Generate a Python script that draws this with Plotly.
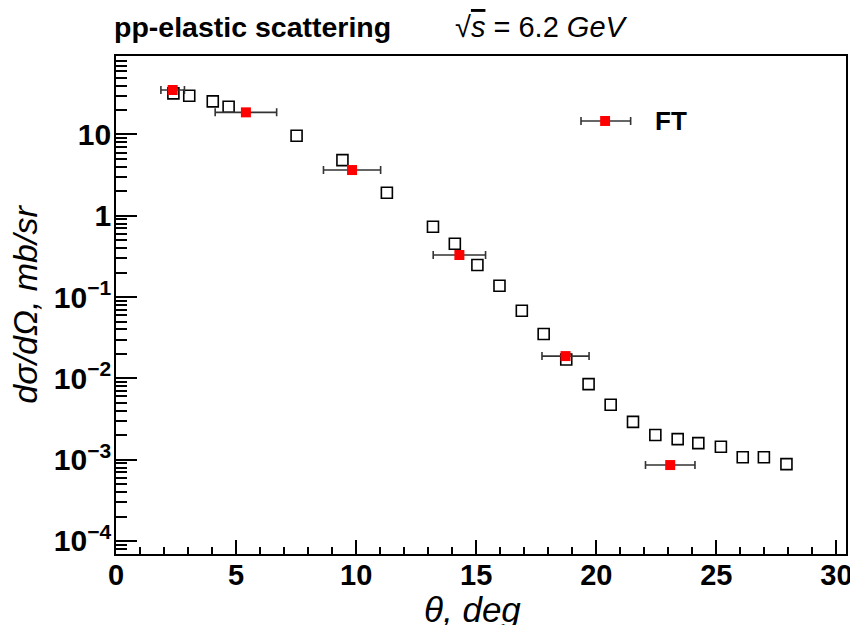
import plotly.graph_objects as go

# ---- data ----
theta_ref = [2.39, 3.05, 4.03, 4.69, 7.52, 9.43, 11.28, 13.20, 14.11, 15.05, 15.97, 16.90,
             17.81, 18.75, 19.68, 20.60, 21.53, 22.46, 23.39, 24.25, 25.19, 26.10, 26.98, 27.92]
xsec_ref = [32.0, 29.9, 25.5, 21.9, 9.64, 4.84, 1.92, 0.732, 0.453, 0.248, 0.138, 0.0679,
            0.0351, 0.0171, 0.00851, 0.00474, 0.00292, 0.00201, 0.00179, 0.00160, 0.00144,
            0.00107, 0.00107, 0.000883]

theta_ft = [2.36, 5.41, 9.83, 14.30, 18.72, 23.08]
xsec_ft = [35.2, 18.7, 3.65, 0.329, 0.0188, 0.000859]
dtheta_ft = [0.49, 1.28, 1.19, 1.09, 0.98, 1.03]

legend_label = "FT"
title_left = "pp-elastic scattering"
title_right = "√<span style=\"text-decoration:overline\"><i>s</i></span> = 6.2 <i>GeV</i>"
x_title = "<i>θ, deg</i>"
y_title = "<i>dσ/dΩ, mb/sr</i>"

FONT = "Liberation Sans, Arial, Helvetica, sans-serif"

fig = go.Figure()

fig.add_trace(go.Scatter(
    x=theta_ref, y=xsec_ref, mode="markers",
    marker=dict(symbol="square-open", size=11, color="black", line=dict(width=1.6, color="black")),
    showlegend=False,
))

fig.add_trace(go.Scatter(
    x=theta_ft, y=xsec_ft, mode="markers",
    marker=dict(symbol="square", size=10, color="#ff0000", line=dict(width=0)),
    error_x=dict(type="data", array=dtheta_ft, visible=True, color="#333333", thickness=1.6, width=4),
    showlegend=False,
))

# legend drawn as decoration (paper coords)
lx0, lx1, lxc, ly = 0.637, 0.705, 0.670, 0.8695
fig.add_shape(type="line", xref="paper", yref="paper", x0=lx0, x1=lx1, y0=ly, y1=ly,
              line=dict(color="#333333", width=1.6))
for xc in (lx0, lx1):
    fig.add_shape(type="line", xref="paper", yref="paper", x0=xc, x1=xc, y0=ly - 0.008, y1=ly + 0.008,
                  line=dict(color="#333333", width=1.6))
fig.add_shape(type="rect", xref="paper", yref="paper", x0=lxc - 0.0068, x1=lxc + 0.0068,
              y0=ly - 0.01, y1=ly + 0.01, fillcolor="#ff0000", line=dict(width=0))
fig.add_annotation(xref="paper", yref="paper", x=0.7356, y=ly, xanchor="left", yanchor="middle",
                   text="<b>" + legend_label + "</b>", showarrow=False,
                   font=dict(family=FONT, size=26, color="black"))

# titles
fig.add_annotation(xref="paper", yref="paper", x=-0.006, y=1.058, xanchor="left", yanchor="middle",
                   text="<b>" + title_left + "</b>", showarrow=False,
                   font=dict(family=FONT, size=28.5, color="black"))
fig.add_annotation(xref="paper", yref="paper", x=0.461, y=1.058, xanchor="left", yanchor="middle",
                   text=title_right, showarrow=False,
                   font=dict(family=FONT, size=29, color="black"))

# x-axis title (placed as annotation to match position)
fig.add_annotation(xref="paper", yref="paper", x=0.488, y=-0.068, xanchor="center", yanchor="top",
                   text=x_title, showarrow=False,
                   font=dict(family=FONT, size=35, color="black"))

fig.update_layout(
    width=850, height=625,
    margin=dict(l=116, r=4, t=56, b=71),
    paper_bgcolor="white", plot_bgcolor="white",
    font=dict(family=FONT, color="black"),
)

fig.update_xaxes(
    range=[0, 30.4], dtick=5, tick0=0, automargin=False, ticklabeloverflow="allow",
    ticks="inside", ticklen=14, tickwidth=1.6, tickcolor="black",
    minor=dict(dtick=1, ticks="inside", ticklen=7, tickwidth=1.6, tickcolor="black", showgrid=False),
    showline=True, linecolor="black", linewidth=2, mirror=True,
    showgrid=False, zeroline=False,
    tickfont=dict(family=FONT, size=29, color="black", weight="bold"),
    ticklabelstandoff=-6,
)

fig.update_yaxes(
    type="log", range=[-4.16, 1.965], dtick=1, exponentformat="power",
    automargin=False, ticklabeloverflow="allow",
    ticks="inside", ticklen=21, tickwidth=1.6, tickcolor="black",
    minor=dict(dtick="D1", ticks="inside", ticklen=11, tickwidth=1.6, tickcolor="black", showgrid=False),
    showline=True, linecolor="black", linewidth=2, mirror=True,
    showgrid=False, zeroline=False,
    tickfont=dict(family=FONT, size=24, color="black", weight="bold"),
    ticklabelstandoff=-2,
    title=dict(text=y_title, font=dict(family=FONT, size=34, color="black"), standoff=6),
)

fig.write_html("out.html")
